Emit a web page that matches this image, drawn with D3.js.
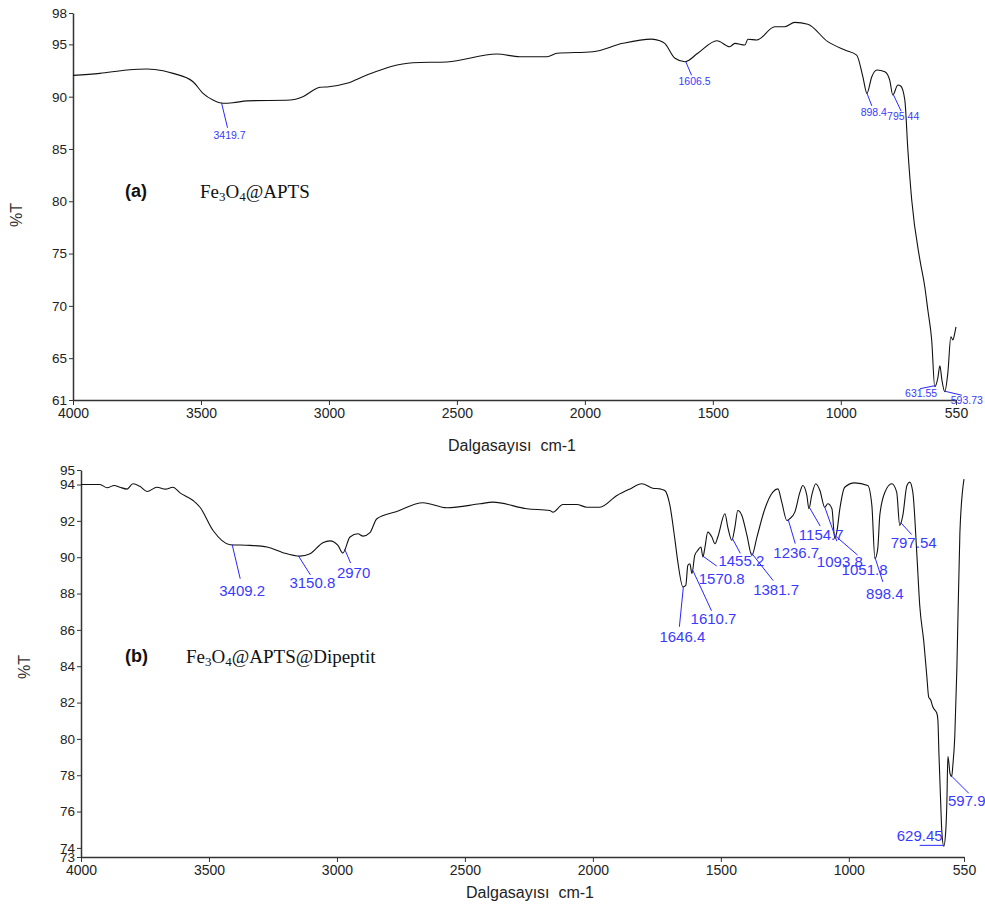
<!DOCTYPE html>
<html>
<head>
<meta charset="utf-8">
<script src="https://cdn.jsdelivr.net/npm/d3@7"></script>
<style>
  body { margin: 0; background: #fff; }
  svg text { font-family: Arial, "Liberation Sans", sans-serif; }
</style>
</head>
<body>
<svg id="chart" width="985" height="908"></svg>
<script>

// spectrum (a) : Fe3O4@APTS
var waveA = [4000, 3895, 3789, 3711, 3648, 3609, 3531, 3492, 3453, 3414, 3375, 3320, 3152, 3102, 3035, 3000,
  2930, 2852, 2672, 2539, 2344, 2254, 2148, 2109, 1969, 1852, 1740, 1707, 1688, 1648, 1609, 1559, 1484,
  1434, 1414, 1375, 1363, 1328, 1258, 1219, 1180, 1129, 1051, 984, 938, 914, 898, 879, 859, 828, 809,
  797, 777, 766, 750, 738, 723, 691, 672, 660, 645, 633, 621, 613, 605, 594, 582, 570, 562, 555, 550];
var transA = [92.04, 92.23, 92.55, 92.65, 92.48, 92.23, 91.43, 90.32, 89.68, 89.37, 89.42, 89.6, 89.68, 90.0, 90.9, 90.95,
  91.28, 92.07, 93.25, 93.32, 94.08, 93.82, 93.82, 94.15, 94.3, 95.1, 95.5, 95.35, 95.1, 93.67, 93.34, 94.15, 95.35,
  94.78, 95.1, 94.94, 95.49, 95.42, 96.69, 96.69, 97.1, 96.92, 95.26, 94.46, 93.98, 91.91, 90.32, 91.91, 92.55, 92.39, 91.59,
  90.16, 91.12, 91.02, 89.68, 84.9, 80.12, 74.39, 71.83, 69.6, 66.74, 62.27, 63.1, 64.28, 62.9, 61.8, 63.55, 67.05, 66.74, 67.38, 68.0];
var peaksA = [3419.7, 1606.5, 898.4, 795.44, 631.55, 593.73];

// spectrum (b) : Fe3O4@APTS@Dipeptit
var waveB = [4000, 3926, 3898, 3870, 3848, 3820, 3797, 3770, 3742, 3703, 3670, 3641, 3613, 3562, 3535, 3484,
  3418, 3340, 3273, 3211, 3145, 3105, 3055, 3027, 2996, 2977, 2949, 2918, 2898, 2871, 2844, 2766, 2664,
  2570, 2441, 2391, 2258, 2168, 2156, 2117, 2063, 2023, 1973, 1906, 1855, 1809, 1766, 1738, 1719, 1699,
  1680, 1668, 1648, 1637, 1629, 1621, 1613, 1602, 1590, 1578, 1570, 1563, 1551, 1535, 1523, 1512, 1484,
  1473, 1457, 1445, 1434, 1418, 1398, 1379, 1359, 1328, 1297, 1277, 1262, 1242, 1231, 1211, 1191, 1180,
  1164, 1156, 1145, 1129, 1113, 1094, 1082, 1066, 1055, 1047, 1035, 1016, 977, 926, 910, 898, 887, 879,
  859, 832, 813, 801, 789, 773, 762, 750, 734, 723, 707, 695, 688, 680, 672, 664, 656, 652, 648, 641,
  637, 629, 621, 617, 613, 609, 605, 598, 594, 586, 578, 566, 550];
var transB = [94.0, 94.0, 93.82, 93.95, 93.85, 93.75, 94.04, 93.9, 93.62, 93.85, 93.75, 93.85, 93.54, 93.12, 92.75, 91.47,
  90.69, 90.65, 90.56, 90.25, 90.06, 90.19, 90.8, 90.9, 90.65, 90.23, 91.11, 91.29, 91.16, 91.35, 92.12, 92.52, 93.0,
  92.72, 92.94, 93.03, 92.67, 92.57, 92.48, 92.9, 92.9, 92.75, 92.75, 93.4, 93.76, 94.04, 93.8, 93.76, 93.67, 92.85,
  91.02, 89.73, 88.36, 88.45, 89.55, 89.64, 89.1, 90.1, 90.38, 90.56, 90.01, 90.47, 91.38, 91.11, 90.74, 91.11, 92.39,
  91.66, 90.93, 91.66, 92.57, 92.3, 91.2, 90.1, 91.11, 92.67, 93.58, 93.76, 93.03, 92.02, 92.12, 92.48, 93.58, 93.95,
  93.4, 92.67, 93.4, 94.04, 93.67, 92.75, 92.94, 92.67, 91.02, 91.38, 92.67, 93.85, 94.09, 93.95, 92.85, 89.92, 90.47, 92.3,
  93.58, 94.04, 93.58, 91.75, 92.3, 93.95, 94.13, 93.58, 90.1, 87.36, 85.34, 83.4, 82.3, 82.14, 81.77, 81.59, 81.41, 81.04, 79.21, 76.47,
  75.0, 74.09, 75.0, 76.47, 79.03, 78.67, 78.12, 77.93, 78.48, 80.13, 83.79, 91.38, 94.3];
var peaksB = [3409.2, 3150.8, 2970, 1646.4, 1610.7, 1570.8, 1455.2, 1381.7, 1236.7, 1154.7, 1093.8, 1051.8, 898.4, 797.54, 629.45, 597.9];

// axes
var xTicks = [4000, 3500, 3000, 2500, 2000, 1500, 1000, 550];
var yTicksA = [61, 65, 70, 75, 80, 85, 90, 95, 98];
var yTicksB = [73.5, 74, 76, 78, 80, 82, 84, 86, 88, 90, 92, 94, 94.8];
var yTickLabelsB = ["73", "74", "76", "78", "80", "82", "84", "86", "88", "90", "92", "94", "95"];


// label placement : [line dx, line dy, text dx, text dy] from the peak point
var layoutA = [[6, 25, 8, 36], [6, 14, 9, 24], [5, 13, 7, 23], [8, 17, 10, 26], [-15, 3, -14, 11], [17, 4, 22, 13]];
var layoutB = [[8, 34, 10, 51], [12, 19, 14, 32], [6, 14, 9, 29], [-4, 40, -1, 55], [19, 41, 21, 54], [14, 10, 19, 28],
  [8, 15, 9, 28], [22, 28, 25, 42], [7, 24, 8, 38], [11, 19, 12, 33], [12, 34, 15, 60], [22, 19, 29, 39],
  [8, 25, 10, 42], [11, 12, 13, 25], [-24, 0, -24, -4], [17, 17, 15, 30]];

var svg = d3.select("#chart");

function valueAt(waves, trans, w) {
  for (var i = 0; i < waves.length - 1; i++) {
    if (waves[i] >= w && waves[i + 1] <= w) {
      var t = (waves[i] - w) / (waves[i] - waves[i + 1]);
      return trans[i] + t * (trans[i + 1] - trans[i]);
    }
  }
  return trans[trans.length - 1];
}

function drawPanel(p) {
  var x = d3.scaleLinear().domain([4000, 550]).range(p.xr);
  var y = d3.scaleLinear().domain(p.yd).range(p.yr);
  var g = svg.append("g");

  var xAxis = d3.axisBottom(x).tickValues(xTicks).tickSize(5).tickPadding(3).tickSizeOuter(0)
    .tickFormat(d3.format("d"));
  var yAxis = d3.axisLeft(y).tickValues(p.yTicks).tickSize(4).tickPadding(2).tickSizeOuter(0)
    .tickFormat((d, i) => p.yLabels ? p.yLabels[i] : d);

  var gx = g.append("g").attr("transform", `translate(0, ${p.yr[0]})`).call(xAxis);
  var gy = g.append("g").attr("transform", `translate(${p.xr[0]}, 0)`).call(yAxis);
  [gx, gy].forEach(a => {
    a.select(".domain").attr("stroke", "#333").attr("stroke-width", 1.5);
    a.selectAll(".tick line").attr("stroke", "#333");
    a.selectAll(".tick text").attr("fill", "#222").style("font-family", "Arial, 'Liberation Sans', sans-serif");
  });
  gx.selectAll(".tick text").attr("font-size", 14);
  gy.selectAll(".tick text").attr("font-size", 13.5);

  // spectrum
  var pts = p.waves.map((w, i) => [w, p.trans[i]]);
  g.append("path")
    .datum(pts)
    .attr("fill", "none")
    .attr("stroke", "#111")
    .attr("stroke-width", 1.1)
    .attr("d", d3.line().curve(d3.curveMonotoneX).x(d => x(d[0])).y(d => y(d[1])));

  // peak labels
  p.peaks.forEach((w, i) => {
    var px = x(w), py = y(valueAt(p.waves, p.trans, w));
    var L = p.layout[i];
    g.append("line")
      .attr("x1", px).attr("y1", py)
      .attr("x2", px + L[0]).attr("y2", py + L[1])
      .attr("stroke", "#2828ff").attr("stroke-width", 1);
    g.append("text")
      .attr("x", px + L[2]).attr("y", py + L[3])
      .attr("text-anchor", "middle")
      .attr("fill", "#3a3aff")
      .attr("font-size", p.peakFont)
      .text(String(w));
  });

  // axis titles
  g.append("text")
    .attr("x", p.titleX).attr("y", p.titleY)
    .attr("text-anchor", "middle")
    .attr("font-size", 16).attr("fill", "#222")
    .style("white-space", "pre")
    .text("Dalgasayısı  cm-1");
  g.append("text")
    .attr("transform", `translate(${p.yLabX}, ${p.yLabY}) rotate(-90)`)
    .attr("text-anchor", "middle")
    .attr("font-size", 16).attr("fill", "#333")
    .text("%T");

  // sample name
  g.append("text")
    .attr("x", 125).attr("y", p.nameY)
    .attr("font-size", 18).attr("font-weight", "bold").attr("fill", "#111")
    .text(p.tag);
  var name = g.append("text")
    .attr("x", p.nameX).attr("y", p.nameY + 1)
    .attr("font-size", 19).attr("fill", "#111")
    .style("font-family", "'Liberation Serif', 'Times New Roman', serif");
  name.append("tspan").text("Fe");
  name.append("tspan").attr("font-size", 13).attr("dy", 3).text("3");
  name.append("tspan").attr("dy", -3).text("O");
  name.append("tspan").attr("font-size", 13).attr("dy", 3).text("4");
  name.append("tspan").attr("dy", -3).text(p.rest);
}

drawPanel({
  xr: [73, 956], yr: [400, 13], yd: [61, 98], yTicks: yTicksA,
  waves: waveA, trans: transA, peaks: peaksA, layout: layoutA, peakFont: 10.5,
  titleX: 512, titleY: 451, yLabX: 22, yLabY: 215,
  tag: "(a)", nameX: 200, nameY: 197, rest: "@APTS"
});

drawPanel({
  xr: [81, 964], yr: [857, 470], yd: [73.5, 94.8], yTicks: yTicksB, yLabels: yTickLabelsB,
  waves: waveB, trans: transB, peaks: peaksB, layout: layoutB, peakFont: 15,
  titleX: 530, titleY: 898, yLabX: 30, yLabY: 667,
  tag: "(b)", nameX: 186, nameY: 662, rest: "@APTS@Dipeptit"
});

</script>
</body>
</html>
